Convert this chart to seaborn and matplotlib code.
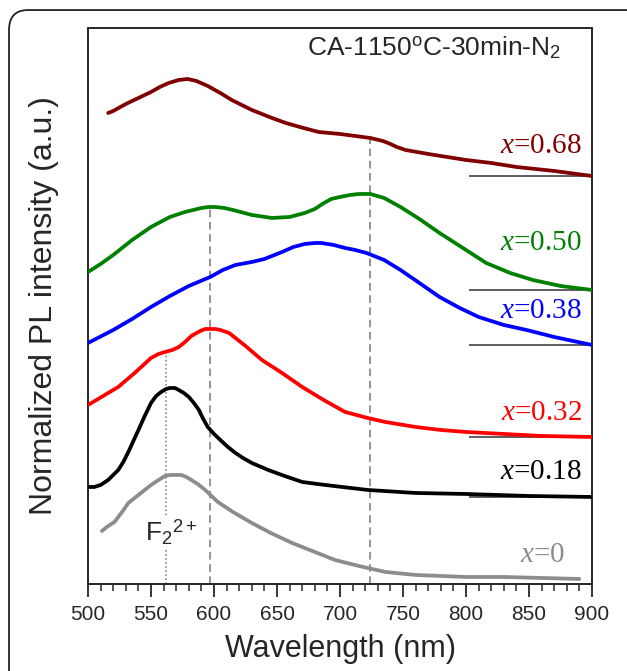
import matplotlib
matplotlib.use('Agg')
import matplotlib.pyplot as plt
import seaborn as sns
import pandas as pd
from matplotlib.patches import FancyBboxPatch

# PL spectra (wavelength in nm, normalized intensity in a.u., curves offset)
wl_068 = [516, 520, 530, 540, 550, 557, 564, 572, 579, 586, 595, 605, 614, 622, 630, 646, 657, 668, 683, 700, 712, 724, 734, 740, 745, 752, 761, 770, 780, 800, 820, 840, 870, 900]
pl_068 = [471, 473, 480, 486, 492, 497, 501, 504, 505, 503, 498, 491, 484, 479, 474, 466, 461, 457, 452, 450, 448, 446, 443, 440, 437, 434, 432, 430, 428, 424, 421, 417, 413, 408]

wl_050 = [500, 510, 520, 535, 550, 565, 577, 590, 596, 601, 608, 615, 630, 646, 660, 672, 680, 686, 693, 700, 708, 715, 724, 735, 748, 763, 779, 800, 816, 835, 853, 875, 900]
pl_050 = [312, 320, 329, 344, 357, 367, 372, 376, 377, 377, 376, 374, 369, 366, 367, 371, 375, 380, 385, 387, 389, 390, 390, 386, 377, 365, 351, 334, 321, 311, 304, 298, 294]

wl_038 = [500, 520, 535, 550, 565, 580, 597, 607, 617, 630, 640, 648, 654, 663, 672, 680, 685, 690, 695, 704, 712, 721, 735, 748, 763, 779, 795, 810, 830, 848, 870, 900]
pl_038 = [241, 254, 265, 277, 288, 298, 307, 314, 319, 322, 325, 329, 332, 337, 340, 341, 341, 340, 339, 336, 334, 331, 324, 314, 301, 287, 276, 267, 259, 254, 247, 239]

wl_032 = [500, 512, 524, 537, 550, 556, 561, 567, 572, 577, 582, 589, 593, 597, 601, 605, 612, 618, 625, 638, 654, 670, 687, 704, 722, 736, 760, 780, 800, 830, 860, 900]
pl_032 = [179, 188, 197, 211, 226, 230, 232, 234, 237, 242, 248, 253, 255, 255, 255, 254, 251, 245, 238, 224, 211, 197, 184, 172, 166, 162, 157, 154, 152, 150, 148, 147]

wl_018 = [500, 505, 510, 516, 520, 524, 528, 532, 536, 540, 545, 550, 554, 558, 562, 565, 569, 572, 576, 580, 584, 588, 591, 595, 600, 605, 611, 617, 623, 630, 643, 656, 670, 682, 695, 722, 760, 800, 850, 900]
pl_018 = [97, 97, 99, 104, 109, 114, 122, 132, 143, 154, 168, 181, 188, 192, 195, 196, 196, 194, 191, 187, 181, 174, 166, 157, 150, 144, 137, 131, 126, 121, 114, 108, 102, 100, 98, 94, 91, 90, 88, 87]

wl_000 = [511, 516, 521, 527, 532, 540, 550, 556, 561, 565, 570, 574, 578, 582, 587, 593, 603, 615, 630, 645, 662, 680, 696, 715, 736, 760, 780, 800, 830, 860, 890]
pl_000 = [53, 58, 62, 72, 81, 89, 99, 104, 108, 109, 109, 109, 107, 104, 100, 94, 82, 72, 61, 51, 41, 32, 24, 18, 12, 9, 8, 7, 7, 6, 5]

labels = ['0.68', '0.50', '0.38', '0.32', '0.18', '0']
colors = ['#800000', '#008000', '#0000ff', '#ff0000', '#000000', '#8c8c8c']
label_y = [438, 341, 273, 171, 112, 29]

# peak guide lines (wavelength, top of line)
guide_wl = [562, 597, 724]
guide_top = [232, 377, 446]
guide_style = [':', (0, (5, 3)), (0, (5, 3))]

series = [(wl_068, pl_068), (wl_050, pl_050), (wl_038, pl_038),
          (wl_032, pl_032), (wl_018, pl_018), (wl_000, pl_000)]

sns.set_style('ticks')
plt.rcParams['font.family'] = ['Liberation Sans', 'DejaVu Sans']
plt.rcParams['mathtext.fontset'] = 'custom'
plt.rcParams['mathtext.rm'] = 'Liberation Sans'
plt.rcParams['mathtext.it'] = 'Liberation Serif:italic'

fig = plt.figure(figsize=(6.27, 6.71), dpi=100)
ax = fig.add_axes([0.1404, 0.1297, 0.8038, 0.8286])

# rounded frame around the panel
frame = FancyBboxPatch((9 / 627, -0.1), 1.2, 1.085, boxstyle='round,pad=0,rounding_size=0.03',
                       transform=fig.transFigure, fill=False, edgecolor='#222222', linewidth=1.3,
                       clip_on=False)
fig.patches.append(frame)

for gx, gt, ls in zip(guide_wl, guide_top, guide_style):
    ax.vlines(gx, 0, gt, colors='#777777', linestyles=[ls], linewidth=1.1, zorder=1)

for (wl, pl), lab, c, ly in zip(series, labels, colors, label_y):
    df = pd.DataFrame({'Wavelength': wl, 'PL': pl})
    sns.lineplot(data=df, x='Wavelength', y='PL', ax=ax, color=c, linewidth=2.7, zorder=3,
                 solid_joinstyle='round', solid_capstyle='round')
    if lab != '0':
        ax.hlines(pl[-1], 802, 900, colors='#333333', linewidth=1.1, zorder=2)
    ax.text(892 if lab != '0' else 879, ly, '$x$=' + lab, color=c, ha='right', va='center',
            fontsize=21, family='Liberation Serif')

ax.text(674, 536, 'CA-1150$^{\\rm o}$C-30min-N$_2$', fontsize=19, ha='left', va='center')
ax.text(545, 52, 'F$_{2}$$^{2+}$', fontsize=19, ha='left', va='center',
        bbox=dict(facecolor='white', edgecolor='none', pad=1))

ax.set_xlim(500, 900)
ax.set_ylim(0, 556)
ax.set_xticks(range(500, 901, 50))
ax.set_xticks(range(500, 901, 10), minor=True)
ax.set_yticks([])
ax.tick_params(axis='x', which='major', direction='out', length=9, width=1.3, labelsize=15, pad=6)
ax.tick_params(axis='x', which='minor', direction='out', length=5, width=1.1)
for s in ax.spines.values():
    s.set_visible(True)
    s.set_linewidth(1.4)
ax.set_xlabel('Wavelength (nm)', fontsize=22, labelpad=7)
ax.set_ylabel('Normalized PL intensity (a.u.)', fontsize=23, labelpad=21)

fig.savefig('out.png', dpi=100)
